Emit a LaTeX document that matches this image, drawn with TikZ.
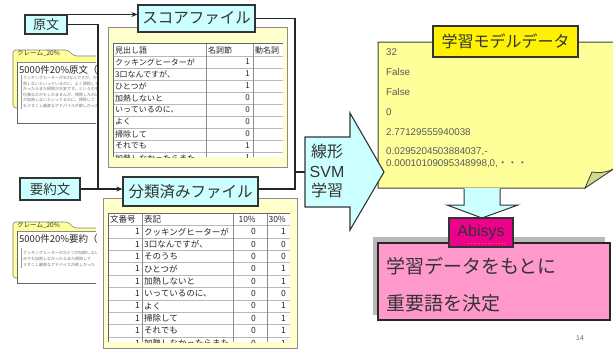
\documentclass[tikz,border=0pt]{standalone}
\usepackage{fontspec}
\setmainfont{Liberation Sans}
\newfontfamily\jp{Noto Sans CJK JP}
\usetikzlibrary{arrows.meta}
\definecolor{cyanf}{HTML}{CCFFFF}
\definecolor{lineC}{HTML}{333333}
\definecolor{ylw}{HTML}{FFFF99}
\definecolor{ylwl}{HTML}{FFFFCC}
\definecolor{pinkf}{HTML}{FF99CC}
\definecolor{txt}{HTML}{333333}
\definecolor{foldc}{HTML}{D6D68A}
\newcommand\myfs[2]{\fontsize{#1}{#2}\selectfont}
\begin{document}
\begin{tikzpicture}[x=1pt,y=-1pt,
 cbox/.style={draw=lineC, line width=1.1pt, fill=cyanf, text=txt, font=\jp, inner sep=0pt},
 conn/.style={draw=black!85, line width=1.1pt},
 arr/.style={conn, -{Stealth[length=6pt,width=5pt]}},
 cell/.style={font=\jp\myfs{8}{9}, text=black!85, inner sep=0pt},
 cellb/.style={font=\jp\myfs{8.5}{9}, text=black!85, inner sep=0pt},
 gridl/.style={draw=black!28, line width=0.5pt},
 dtext/.style={font=\myfs{9.8}{11}, text=black!65, anchor=west, inner sep=0pt},
 tinyt/.style={font=\jp\myfs{4}{5}, text=black!55, anchor=west, inner sep=0pt},
 tabt/.style={font=\jp\myfs{6.5}{7}, text=black!80, anchor=west, inner sep=0pt},
 cardt/.style={font=\jp\myfs{9.5}{11}, text=black!85, anchor=west, inner sep=0pt},
]
\useasboundingbox[fill=white] (0,0) rectangle (613,349);

% ---------------- note cards (left) ----------------
\begin{scope}
\clip (0,0) rectangle (96,349);
% card 1
\draw[draw=black!50, fill=ylw, line width=0.6pt, rounded corners=3pt]
  (13,108) -- (13,50) -- (68,50) -- (74,56) -- (104,56) -- (104,108) -- cycle;
\node[tabt] (c1tab) at (17,53.5) {クレーム\_20\%};
\draw[fill=white, draw=black!45, line width=0.6pt] (17,62) rectangle (104,123);
\draw[black!60, line width=1pt] (17,62) -- (17,123) -- (104,123);
\node[cardt] (c1t) at (19,70) {5000件20\%原文（};
\draw[black!40, line width=0.8pt] (21,75) -- (21,109);
\node[tinyt] (c1a) at (23,78.3) {クッキングヒーターが3口なんですが、ひとつが};
\node[tinyt] (c1b) at (23,83.8) {熱しないといっているのに、よく掃除して};
\node[tinyt] (c1c) at (23,89.3) {かったらまた掃除が大変です。というのも};
\node[tinyt] (c1d) at (23,94.8) {仕事なのかもしれませんが、掃除したのに};
\node[tinyt] (c1e) at (23,100.3) {が加熱しないといってるのに、掃除して};
\node[tinyt] (c1f) at (23,105.8) {もうすこし親身なアドバイスが欲しかった};
% card 2
\draw[draw=black!50, fill=ylw, line width=0.6pt, rounded corners=3pt]
  (13,278) -- (13,222) -- (68,222) -- (74,228) -- (104,228) -- (104,278) -- cycle;
\node[tabt] (c2tab) at (17,225.5) {クレーム\_20\%};
\draw[fill=white, draw=black!45, line width=0.6pt] (17,231) rectangle (104,283);
\draw[black!60, line width=1pt] (17,231) -- (17,283) -- (104,283);
\node[cardt] (c2t) at (19,238.5) {5000件20\%要約（};
\draw[black!40, line width=0.8pt] (21,248) -- (21,268);
\node[tinyt] (c2a) at (23,252.5) {クッキングヒーターのひとつが加熱しない};
\node[tinyt] (c2b) at (23,258.5) {みでも加熱しなかったらまた掃除して};
\node[tinyt] (c2c) at (23,264.5) {うすこし親身なアドバイスが欲しかった};
\end{scope}

% ---------------- score file panel ----------------
\draw[fill=ylwl, draw=black!45, line width=0.8pt] (108,27) rectangle (287,167);
\begin{scope}
\clip (113,43) rectangle (283,157);
\fill[white] (113,43) rectangle (283,157);
\foreach \k in {1,...,10} \draw[gridl] (113,{44+12*\k}) -- (283,{44+12*\k});
\draw[black!45, line width=0.6pt] (206,43) -- (206,157);
\draw[black!45, line width=0.6pt] (253,43) -- (253,157);
\node[cell, anchor=west] (sh1) at (115,50) {見出し語};
\node[cell, anchor=west] (sh2) at (208,50) {名詞節};
\node[cell, anchor=west] (sh3) at (255,50) {動名詞};
\foreach \t/\v [count=\i] in {クッキングヒーターが/1, 3口なんですが、/1, ひとつが/1, 加熱しないと/0, いっているのに、/0, よく/0, 掃除して/0, それでも/1, 加熱しなかったらまた/1}
{
  \node[cell, anchor=west] (sa\i) at (115,{50+12*\i}) {\t};
  \node[cell, anchor=east] (sb\i) at (250,{50+12*\i}) {\v};
}
\end{scope}
\draw[black!60, line width=0.7pt] (113,157) -- (113,43) -- (283,43);

% ---------------- classified file panel ----------------
\draw[fill=ylwl, draw=black!45, line width=0.8pt] (103,198) rectangle (297,348);
\begin{scope}
\clip (108,213) rectangle (290,342);
\fill[white] (108,213) rectangle (290,342);
\foreach \k in {1,...,10} \draw[gridl] (108,{213.3+12.35*\k}) -- (290,{213.3+12.35*\k});
\draw[black!45, line width=0.6pt] (142,213) -- (142,342);
\draw[black!45, line width=0.6pt] (233,213) -- (233,342);
\draw[black!45, line width=0.6pt] (267,213) -- (267,342);
\node[cellb, anchor=west] (bh1) at (110,219.5) {文番号};
\node[cellb, anchor=west] (bh2) at (144,219.5) {表記};
\node[cellb, anchor=east] (bh3) at (256,219.5) {10\%};
\node[cellb, anchor=east] (bh4) at (286,219.5) {30\%};
\foreach \t/\a/\b [count=\i] in {クッキングヒーターが/0/1, 3口なんですが、/0/0, そのうち/0/0, ひとつが/0/1, 加熱しないと/0/1, いっているのに、/0/0, よく/0/1, 掃除して/0/1, それでも/0/1, 加熱しなかったらまた/0/1}
{
  \node[cellb, anchor=east] (bn\i) at (140,{219.5+12.35*\i}) {1};
  \node[cellb, anchor=west] (bt\i) at (144,{219.5+12.35*\i}) {\t};
  \node[cellb, anchor=east] (ba\i) at (256,{219.5+12.35*\i}) {\a};
  \node[cellb, anchor=east] (bb\i) at (286,{219.5+12.35*\i}) {\b};
}
\end{scope}
\draw[black!60, line width=0.7pt] (108,342) -- (108,213) -- (290,213);

% ---------------- cyan boxes ----------------
\node[cbox, font=\jp\myfs{13}{15}, minimum width=42pt, minimum height=19pt] (gen) at (46,24.5) {原文};
\node[cbox, font=\jp\myfs{13.5}{15}, minimum width=60pt, minimum height=22pt] (yoy) at (50,189) {要約文};
\node[cbox, font=\jp\myfs{15.5}{17}, minimum width=117pt, minimum height=27pt] (sco) at (196.5,18.5) {スコアファイル};
\node[cbox, font=\jp\myfs{15.5}{17}, minimum width=135pt, minimum height=29pt] (bun) at (190.5,191.5) {分類済みファイル};

% ---------------- connectors ----------------
\coordinate (j1) at (98,189);
\coordinate (j3) at (295,189);
\coordinate (j2) at (295,172);
\coordinate (svmw) at (305,172);
\draw[arr] (gen.north east) -- (gen.north east -| sco.west);
\draw[conn] (gen.east) -| (j1);
\draw[conn] (yoy.east) -- (j1);
\draw[arr] (j1) -- (j1 -| bun.west);
\draw[conn] (sco.east) -| (j3) -- (j3 -| bun.east);
\draw[conn] (j2) -- (svmw);

% ---------------- learned model data panel ----------------
\fill[ylw] (378,42) -- (613,42) -- (613,169) -- (585,188) -- (378,188) -- cycle;
\draw[black!75, line width=1pt] (613,42) -- (378,42) -- (378,188) -- (585,188) -- (613,169);
\draw[black!75, line width=0.8pt, fill=foldc] (585,188) .. controls (588,181) .. (592,172) .. controls (601,173) .. (612,170) -- cycle;
\node[draw=black!80, line width=1.1pt, fill=yellow, font=\jp\myfs{16}{18}, text=txt, minimum width=145pt, minimum height=31pt, inner sep=0pt] (dat) at (505.5,41.5) {学習モデルデータ};
\node[dtext] (d1) at (386,52) {32};
\node[dtext] (d2) at (386,72) {False};
\node[dtext] (d3) at (386,92) {False};
\node[dtext] (d4) at (386,112) {0};
\node[dtext] (d5) at (386,132) {2.77129555940038};
\node[dtext] (d6) at (386,152) {0.0295204503884037,-};
\node[dtext] (d7) at (386,163.5) {0.00010109095348998,0,{\jp ・・・}};

% ---------------- SVM arrow ----------------
\draw[draw=lineC, line width=1.1pt, fill=cyanf] (305,137) -- (350,137) -- (350,113) -- (384,172) -- (350,230) -- (350,207) -- (305,207) -- cycle;
\node[font=\myfs{16}{19.5}, text=txt, align=center, inner sep=0pt] (svm) at (327,171) {{\jp 線形}\\SVM\\{\jp 学習}};

% ---------------- down arrow ----------------
\fill[cyanf] (464,188) -- (500,188) -- (500,205) -- (518,205) -- (482,218) -- (447,205) -- (464,205) -- cycle;
\draw[draw=lineC, line width=1pt] (500,188.5) -- (500,205) -- (518,205) -- (482,218) -- (447,205) -- (464,205) -- (464,188.5);

% ---------------- result box ----------------
\fill[black!28] (373,237) rectangle (605,315);
\node[draw=black!85, line width=1.5pt, fill=pinkf, minimum width=232pt, minimum height=77pt, inner sep=0pt] (pk) at (494,281.5) {};
\node[font=\jp\myfs{19}{21}, text=txt, anchor=west, inner sep=0pt] (pk1) at (386,266) {学習データをもとに};
\node[font=\jp\myfs{19}{21}, text=txt, anchor=west, inner sep=0pt] (pk2) at (386,303) {重要語を決定};
\node[draw=black!80, line width=1.1pt, fill=magenta, font=\myfs{16}{18}, text=txt, minimum width=64pt, minimum height=29pt, inner sep=0pt] (abi) at (481,232.5) {Abisys};
\draw[orange!80!red, line width=0.8pt, dotted] (468,243.5) -- (505,243.5);

\node[font=\myfs{7}{8}, text=black!60, inner sep=0pt] (pg) at (580,338) {14};
\end{tikzpicture}
\end{document}
